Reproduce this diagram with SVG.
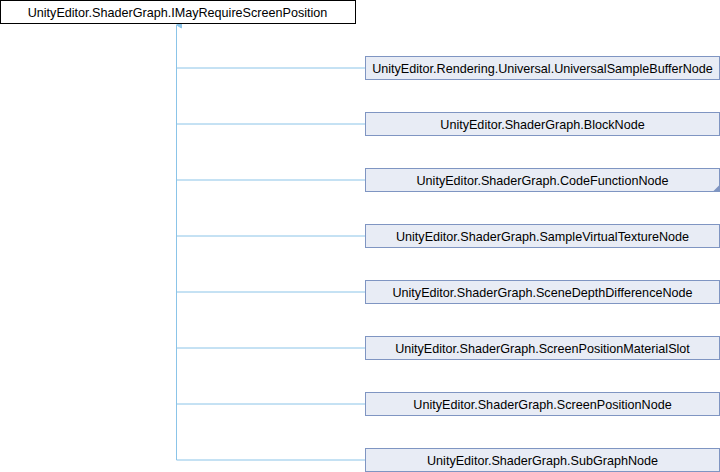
<svg xmlns="http://www.w3.org/2000/svg" width="720" height="472" viewBox="0 0 720 472">
<style>
.bg{fill:#ffffff}
.root rect{fill:#ffffff;stroke:#000000;stroke-width:1}
.node rect{fill:#e8ecf5;stroke:#7f95c2;stroke-width:1}
text{font-family:"Liberation Sans",Arial,sans-serif;font-size:12.6px;fill:#000000;text-anchor:middle}
.edge{stroke:#8bc4e8;stroke-width:1;fill:none}
.fold{fill:#7f95c2}
</style>
<defs>
<marker id="arr" markerWidth="8" markerHeight="8" refX="4" refY="1" orient="auto" markerUnits="userSpaceOnUse" viewBox="0 0 8 8">
<path d="M1,6 L4,1 L7,6 Z" fill="#8bc4e8" stroke="#8bc4e8"/>
</marker>
</defs>
<rect class="bg" x="0" y="0" width="720" height="472"/>
<g id="connectors">
<path class="edge" d="M176.5,460 L176.5,25" marker-end="url(#arr)"/>
<path class="edge" d="M176.5,68 L365,68"/>
<path class="edge" d="M176.5,124 L365,124"/>
<path class="edge" d="M176.5,180 L365,180"/>
<path class="edge" d="M176.5,236 L365,236"/>
<path class="edge" d="M176.5,292 L365,292"/>
<path class="edge" d="M176.5,348 L365,348"/>
<path class="edge" d="M176.5,404 L365,404"/>
<path class="edge" d="M176.5,460 L365,460"/>
</g>
<g id="n0" class="root"><rect x="0.5" y="0.5" width="355" height="23"/><text x="177.5" y="16.5">UnityEditor.ShaderGraph.IMayRequireScreenPosition</text></g>
<g id="n1" class="node"><rect x="365.5" y="56.5" width="354" height="23"/><text x="542.5" y="72.5">UnityEditor.Rendering.Universal.UniversalSampleBufferNode</text></g>
<g id="n2" class="node"><rect x="365.5" y="112.5" width="354" height="23"/><text x="542.5" y="128.5">UnityEditor.ShaderGraph.BlockNode</text></g>
<g id="n3" class="node"><rect x="365.5" y="168.5" width="354" height="23"/><text x="542.5" y="184.5">UnityEditor.ShaderGraph.CodeFunctionNode</text><path class="fold" d="M719.5,185 L719.5,191.5 L713,191.5 Z"/></g>
<g id="n4" class="node"><rect x="365.5" y="224.5" width="354" height="23"/><text x="542.5" y="240.5">UnityEditor.ShaderGraph.SampleVirtualTextureNode</text></g>
<g id="n5" class="node"><rect x="365.5" y="280.5" width="354" height="23"/><text x="542.5" y="296.5">UnityEditor.ShaderGraph.SceneDepthDifferenceNode</text></g>
<g id="n6" class="node"><rect x="365.5" y="336.5" width="354" height="23"/><text x="542.5" y="352.5">UnityEditor.ShaderGraph.ScreenPositionMaterialSlot</text></g>
<g id="n7" class="node"><rect x="365.5" y="392.5" width="354" height="23"/><text x="542.5" y="408.5">UnityEditor.ShaderGraph.ScreenPositionNode</text></g>
<g id="n8" class="node"><rect x="365.5" y="448.5" width="354" height="23"/><text x="542.5" y="464.5">UnityEditor.ShaderGraph.SubGraphNode</text></g>
</svg>
